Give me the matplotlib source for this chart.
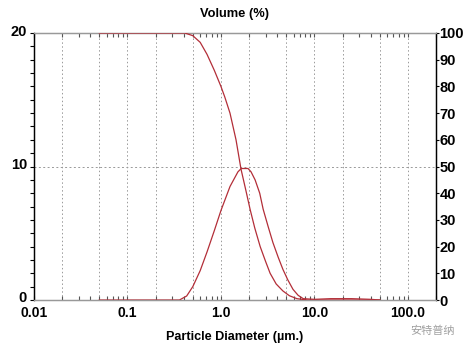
import numpy as np
import matplotlib
matplotlib.use('Agg')
import matplotlib.pyplot as plt
import matplotlib.transforms as mtransforms
from matplotlib.ticker import LogLocator, FixedLocator, MultipleLocator, NullFormatter

plt.rcParams['font.family'] = ['Liberation Sans', 'DejaVu Sans']

# particle size distribution (frequency, left axis, %)
freq_d = [0.05, 0.36, 0.43, 0.5, 0.6, 0.71, 0.85, 1.0, 1.25, 1.52, 1.65,
          1.95, 2.1, 2.32, 2.6, 2.83, 3.2, 3.6, 4.1, 4.6, 5.2, 5.9, 6.7, 7.6,
          10, 15, 25, 40, 50]
freq_v = [0, 0, 0.3, 1.0, 2.2, 3.6, 5.2, 6.7, 8.5, 9.6, 9.85,
          9.85, 9.6, 9.0, 8.0, 6.8, 5.5, 4.3, 3.2, 2.3, 1.5, 0.8, 0.35, 0.1,
          0.05, 0.1, 0.1, 0.05, 0]

# cumulative volume (right axis, %)
cum_d = [0.05, 0.41, 0.5, 0.6, 0.71, 0.85, 1.0, 1.1, 1.25, 1.45, 1.64, 1.85,
         2.05, 2.3, 2.63, 3.0, 3.36, 3.9, 4.6, 5.4, 6.5, 8.4, 20, 50]
cum_v = [100, 100, 99, 96.5, 92, 86, 80, 76, 70, 60, 49, 41,
         34, 27, 20, 14.5, 10, 6, 3.4, 1.6, 0.5, 0, 0, 0]

x_ticks = [0.01, 0.1, 1.0, 10.0, 100.0]
x_labels = ['0.01', '0.1', '1.0', '10.0', '100.0']
x_grid = [0.02, 0.05, 0.1, 0.2, 0.5, 1, 2, 5, 10, 20, 50, 100]
left_ticks = [0, 10, 20]
right_ticks = list(range(0, 101, 10))

line_col = '#b32e38'
grid_col = '#999999'

fig = plt.figure(figsize=(4.69, 3.53), dpi=100)
ax = fig.add_axes([34 / 469, 53 / 353, 402 / 469, 267 / 353])
ax2 = ax.twinx()

ax.set_xscale('log')
ax.set_xlim(0.01, 200)
ax.set_ylim(0, 20)
ax2.set_ylim(0, 100)

for g in x_grid:
    ax.axvline(g, color=grid_col, lw=0.7, ls=(0, (1.5, 2.5)), zorder=0)
ax.axhline(10, color=grid_col, lw=0.7, ls=(0, (2, 2.5)), zorder=0)

ax.plot(freq_d, freq_v, color=line_col, lw=0.9, zorder=3)
ax2.plot(cum_d, cum_v, color=line_col, lw=0.9, zorder=3)

# x axis
ax.xaxis.set_major_locator(FixedLocator(x_ticks))
ax.set_xticklabels(x_labels, fontsize=10, fontweight='bold')
ax.xaxis.set_minor_locator(LogLocator(base=10, subs=np.arange(2, 10), numticks=20))
ax.xaxis.set_minor_formatter(NullFormatter())
ax.tick_params(axis='x', which='both', direction='in', top=True, length=3,
               width=0.8, color='#555555', pad=4)

# left axis
ax.set_yticks(left_ticks)
ax.yaxis.set_minor_locator(MultipleLocator(1))
ax.set_yticklabels([str(v) for v in left_ticks], fontsize=10.5, fontweight='bold')
ax.tick_params(axis='y', which='both', direction='out', length=3, width=0.8, pad=2)
shift_up = mtransforms.ScaledTranslation(0, 3 / 100, fig.dpi_scale_trans)
for lab in ax.get_yticklabels():
    lab.set_transform(lab.get_transform() + shift_up)

# right axis
ax2.set_yticks(right_ticks)
ax2.set_yticklabels([str(v) for v in right_ticks], fontsize=10.5, fontweight='bold')
ax2.tick_params(axis='y', direction='out', length=2, width=0.8, pad=0.5)

for a in (ax, ax2):
    a.spines['top'].set_color(grid_col)
    a.spines['bottom'].set_color(grid_col)
    a.spines['left'].set_color('black')
    a.spines['right'].set_color('black')
    for s in a.spines.values():
        s.set_linewidth(0.9)

fig.text(234 / 469, 1 - 14 / 353, 'Volume (%)', ha='center', va='center',
         fontsize=9.3, fontweight='bold')
fig.text(235 / 469, 1 - 337 / 353, 'Particle Diameter (\u00b5m.)', ha='center',
         va='center', fontsize=9.1, fontweight='bold')
fig.text(410 / 469, 1 - 331 / 353, '安特普纳', ha='left', va='center', fontsize=8,
         color='#a0a0a0', family=['Noto Sans CJK SC', 'DejaVu Sans'])

fig.savefig('out.png', dpi=100)
